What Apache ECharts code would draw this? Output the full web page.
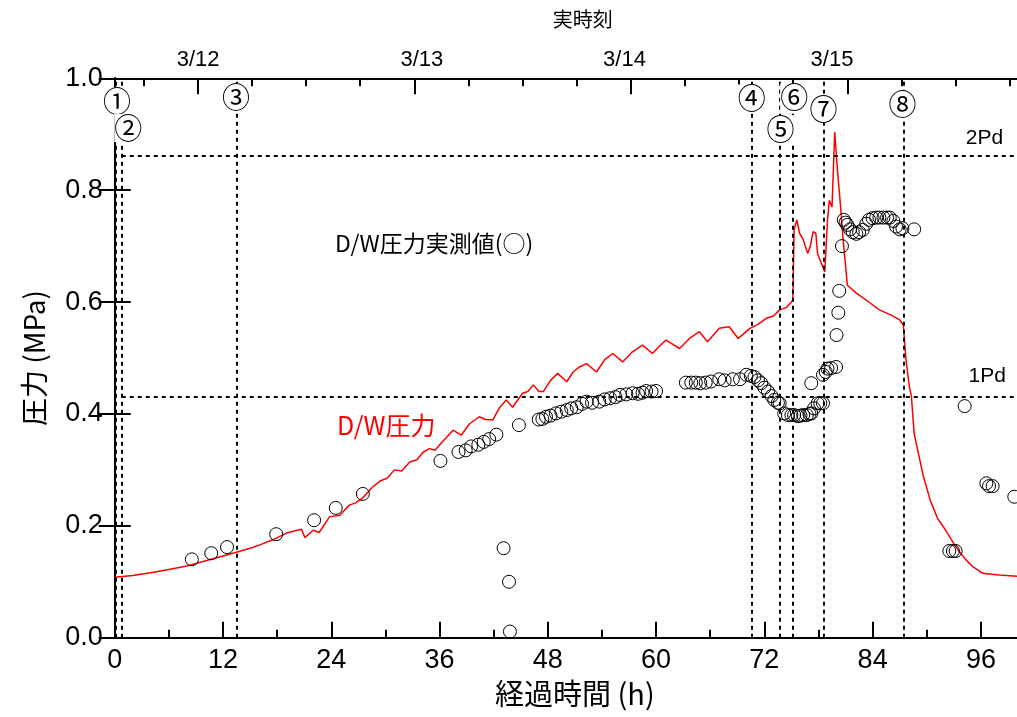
<!DOCTYPE html>
<html><head><meta charset="utf-8">
<script src="https://cdn.jsdelivr.net/npm/echarts@6/dist/echarts.min.js"></script>
<style>html,body{margin:0;padding:0;background:#fff}#c{width:1017px;height:717px}</style>
</head><body><div id="c"></div><script>
// ---- data ----
const dwPressureLine = [[0,0.108],[2,0.111],[4,0.116],[6,0.122],[8,0.128],[10,0.137],[12,0.146],[13.3,0.152],[15,0.160],[16.1,0.166],[17.5,0.175],[19.05,0.187],[20.7,0.194],[21.07,0.179],[22.0,0.192],[22.66,0.188],[23.8,0.216],[24.95,0.219],[26,0.237],[26.7,0.241],[27.5,0.25],[28.5,0.268],[29.4,0.28],[30.2,0.285],[31,0.30],[31.8,0.298],[32.7,0.314],[33.5,0.318],[34.2,0.332],[34.9,0.338],[35.5,0.335],[36.3,0.35],[37.5,0.371],[38.4,0.362],[39.3,0.382],[40.4,0.395],[41.1,0.39],[41.9,0.389],[42.6,0.41],[43.4,0.425],[44.1,0.412],[45.2,0.437],[45.8,0.44],[46.4,0.452],[47.0,0.44],[47.5,0.44],[48.3,0.46],[49.1,0.4725],[50.1,0.4576],[50.8,0.475],[51.5,0.484],[52.3,0.490],[53.4,0.475],[54.3,0.497],[55.2,0.508],[56.3,0.493],[57.3,0.51],[58.5,0.523],[59.6,0.508],[60.3,0.52],[61.1,0.532],[62.6,0.517],[63.7,0.535],[64.8,0.547],[65.7,0.529],[67.0,0.553],[68.1,0.556],[69.1,0.535],[70.4,0.553],[71.3,0.56],[72.2,0.571],[73.0,0.575],[73.7,0.586],[74.4,0.59],[75.0,0.600],[75.15,0.604],[75.3,0.729],[75.6,0.747],[75.9,0.723],[76.3,0.712],[76.8,0.687],[77.1,0.70],[77.4,0.726],[77.7,0.723],[77.9,0.687],[78.3,0.67],[78.7,0.654],[78.85,0.70],[79.0,0.747],[79.2,0.782],[79.5,0.770],[79.8,0.904],[80.1,0.836],[80.4,0.78],[80.7,0.717],[81.2,0.630],[82.2,0.616],[83.5,0.601],[84.75,0.586],[86,0.577],[87.0,0.568],[87.4,0.559],[87.7,0.496],[88.07,0.449],[88.3,0.431],[88.6,0.365],[89.0,0.335],[89.6,0.29],[90.4,0.245],[91.2,0.213],[92.1,0.192],[93.0,0.168],[93.6,0.154],[94.3,0.14],[95.1,0.127],[96.2,0.115],[98.0,0.112],[100,0.110]];

const measuredPressure = [[8.55,0.14],[10.7,0.151],[12.45,0.162],[17.9,0.185],[22.1,0.21],[24.5,0.232],[27.5,0.257],[36.1,0.316],[38.1,0.332],[38.9,0.335],[39.5,0.342],[40.3,0.345],[40.9,0.35],[41.5,0.355],[42.3,0.363],[43.1,0.16],[43.7,0.10],[43.8,0.011],[44.8,0.38],[47.0,0.39],[47.4,0.391],[47.8,0.395],[48.3,0.397],[48.9,0.401],[49.5,0.404],[50.1,0.407],[50.6,0.41],[51.2,0.412],[51.8,0.418],[52.3,0.422],[52.9,0.42],[53.7,0.422],[54.3,0.426],[54.9,0.428],[55.5,0.43],[56.0,0.434],[56.7,0.435],[57.4,0.437],[58.0,0.436],[58.5,0.438],[58.9,0.441],[59.5,0.44],[60.0,0.441],[63.3,0.456],[63.9,0.456],[64.4,0.456],[64.9,0.455],[65.5,0.456],[66.1,0.458],[67.0,0.462],[67.6,0.46],[68.5,0.462],[69.3,0.462],[70.0,0.47],[70.5,0.468],[70.9,0.466],[71.3,0.46],[71.65,0.455],[72.0,0.447],[72.4,0.44],[72.8,0.432],[73.1,0.425],[73.5,0.42],[73.7,0.419],[74.2,0.401],[74.6,0.398],[75.0,0.398],[75.3,0.398],[75.7,0.396],[76.0,0.397],[76.3,0.398],[76.7,0.398],[77.0,0.40],[77.2,0.401],[77.5,0.41],[77.9,0.419],[78.2,0.419],[78.5,0.419],[77.2,0.455],[78.5,0.47],[78.8,0.475],[79.0,0.481],[79.4,0.482],[79.95,0.484],[80.0,0.541],[80.2,0.581],[80.3,0.62],[80.6,0.70],[80.8,0.747],[81.0,0.742],[81.2,0.738],[81.5,0.73],[81.8,0.725],[82.2,0.722],[82.5,0.725],[82.9,0.729],[83.3,0.74],[83.6,0.747],[84.0,0.75],[84.4,0.751],[84.75,0.751],[85.2,0.751],[85.6,0.751],[85.9,0.751],[86.3,0.745],[86.6,0.735],[87.0,0.73],[87.3,0.732],[88.6,0.730],[92.5,0.155],[92.9,0.155],[93.2,0.155],[94.2,0.414],[96.6,0.276],[96.9,0.271],[97.3,0.271],[99.7,0.252]];

const eventNames = ['①','②','③','④','⑤','⑥','⑦','⑧'];
const eventTimes = [0.15, 0.78, 13.5, 70.6, 73.7, 75.2, 78.6, 87.4];
const eventLabelAt = [[0.25,0.959],[1.5,0.911],[13.45,0.966],[70.6,0.964],[73.8,0.909],[75.3,0.966],[78.55,0.945],[87.3,0.954]];

const pdNames = ['1Pd','2Pd'];
const pdValues = [0.431, 0.862];

const bottomTickLabels = [0,12,24,36,48,60,72,84,96];
const bottomMinorTicks = [6,18,30,42,54,66,78,90];
const dateLabels = ['3/12','3/13','3/14','3/15'];
const dateLabelHours = [9.25, 34.05, 56.5, 79.5];
const dateMajorTicks = [9.2, 33.2, 57.2, 81.2];
const dateMinorTicks = [3.2, 15.2, 21.2, 27.2, 39.2, 45.2, 51.2, 63.2, 69.2, 75.2, 87.2, 93.2, 99.2];

// ---- chart ----
const NUM = '"Liberation Sans", Arial, sans-serif';
const JP = '"Noto Sans CJK JP", sans-serif';
const chart = echarts.init(document.getElementById('c'), null, {renderer: 'canvas'});
const axisLine = {show: true, lineStyle: {color: '#000', width: 2}};
const baseX = {type: 'value', min: 0, max: 100, splitLine: {show: false}, gridIndex: 0};

const option = {
  animation: false,
  backgroundColor: '#fff',
  grid: {left: 114.7, top: 78.3, width: 903, height: 559.4, containLabel: false},
  xAxis: [
    Object.assign({}, baseX, {
      position: 'bottom', axisLine,
      axisTick: {inside: true, length: 16, customValues: bottomTickLabels, lineStyle: {color: '#000', width: 2}},
      axisLabel: {customValues: bottomTickLabels, fontSize: 27, color: '#000', fontFamily: NUM, margin: 9},
      name: '経過時間 (h)', nameLocation: 'middle', nameGap: 42,
      nameTextStyle: {fontSize: 29, color: '#000', fontFamily: JP, padding: [0, 0, 0, 18]}
    }),
    Object.assign({}, baseX, {
      position: 'bottom', axisLine: {show: false},
      axisTick: {inside: true, length: 8, customValues: bottomMinorTicks, lineStyle: {color: '#000', width: 2}},
      axisLabel: {show: false}
    }),
    Object.assign({}, baseX, {
      position: 'top', axisLine,
      axisTick: {inside: true, length: 16, customValues: dateMajorTicks, lineStyle: {color: '#000', width: 2}},
      axisLabel: {customValues: dateLabelHours, fontSize: 22, color: '#000', fontFamily: NUM, margin: 7,
        formatter: function (v) {
          let best = 0;
          for (let i = 0; i < dateLabelHours.length; i++) if (Math.abs(dateLabelHours[i] - v) < Math.abs(dateLabelHours[best] - v)) best = i;
          return dateLabels[best];
        }},
      name: '実時刻', nameLocation: 'middle', nameGap: 49,
      nameTextStyle: {fontSize: 20, color: '#000', fontFamily: JP, padding: [0, 0, 0, 34]}
    }),
    Object.assign({}, baseX, {
      position: 'top', axisLine: {show: false},
      axisTick: {inside: true, length: 8, customValues: dateMinorTicks, lineStyle: {color: '#000', width: 2}},
      axisLabel: {show: false}
    })
  ],
  yAxis: [
    {type: 'value', position: 'left', min: 0, max: 1, interval: 0.2, splitLine: {show: false}, axisLine,
     axisTick: {inside: true, length: 16, lineStyle: {color: '#000', width: 2}},
     axisLabel: {fontSize: 27, color: '#000', fontFamily: NUM, margin: 12, formatter: v => v.toFixed(1)},
     name: '圧力 (MPa)', nameLocation: 'middle', nameGap: 66, nameRotate: 90,
     nameTextStyle: {fontSize: 28, color: '#000', fontFamily: JP}},
    {type: 'value', position: 'right', min: 0, max: 1, interval: 0.2, splitLine: {show: false}, axisLine,
     axisTick: {inside: true, length: 16, lineStyle: {color: '#000', width: 2}},
     axisLabel: {show: false}}
  ],
  series: [
    {
      type: 'line', name: 'D/W圧力', data: dwPressureLine, showSymbol: false, symbol: 'none',
      lineStyle: {color: '#ff0000', width: 1.5}, z: 3, silent: true
    },
    {
      type: 'scatter', name: 'D/W圧力実測値', data: measuredPressure, symbol: 'circle', symbolSize: 13,
      itemStyle: {color: 'rgba(0,0,0,0)', borderColor: '#000', borderWidth: 1, opacity: 1}, z: 4, silent: true,
      markLine: {
        silent: true, symbol: ['none', 'none'], label: {show: false},
        lineStyle: {color: '#000', width: 2, type: [4, 4], opacity: 1},
        data: eventTimes.map(t => [{coord: [t, 0]}, {coord: [t, 1]}])
          .concat(pdValues.map(p => [{coord: [eventTimes[1], p]}, {coord: [100, p]}]))
      }
    },
    {
      type: 'scatter', symbolSize: 1, itemStyle: {color: 'rgba(0,0,0,0)', opacity: 1}, silent: true, z: 10,
      data: eventNames.map((n, i) => ({name: n, value: eventLabelAt[i]})),
      label: {show: true, position: 'inside', formatter: '{b}', fontSize: 28, color: '#000',
        fontFamily: JP, backgroundColor: '#fff', padding: [0, 0]}
    },
    {
      type: 'scatter', symbolSize: 1, itemStyle: {color: 'rgba(0,0,0,0)', opacity: 1}, silent: true, z: 10,
      data: [
        {name: 'D/W圧力実測値(○)', value: [35.4, 0.705], label: {color: '#000', fontSize: 23}},
        {name: 'D/W圧力', value: [30.1, 0.380], label: {color: '#ff0000', fontSize: 25}},
        {name: pdNames[1], value: [96.4, 0.893], label: {fontFamily: NUM, fontSize: 21}},
        {name: pdNames[0], value: [96.7, 0.468], label: {fontFamily: NUM, fontSize: 21}}
      ],
      label: {show: true, position: 'inside', formatter: '{b}', fontSize: 20, color: '#000', fontFamily: JP}
    }
  ]
};
chart.setOption(option);
</script></body></html>
